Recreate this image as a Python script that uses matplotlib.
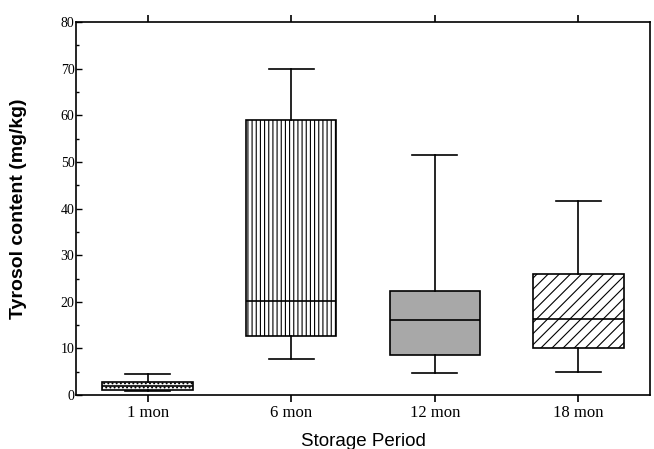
import matplotlib.pyplot as plt
from matplotlib.ticker import MultipleLocator

periods = ['1 mon', '6 mon', '12 mon', '18 mon']
whisk_lo = [0.9, 7.8, 4.8, 5.0]
q1 = [1.2, 12.6, 8.7, 10.2]
median = [2.0, 20.2, 16.2, 16.4]
q3 = [2.8, 59.0, 22.3, 26.0]
whisk_hi = [4.5, 70.0, 51.5, 41.6]

faces = ['#f4f4f4', 'white', '#a8a8a8', 'white']
hatches = ['....', '||||', '', '///']

stats = []
for i in range(len(periods)):
    stats.append({'label': periods[i], 'whislo': whisk_lo[i], 'q1': q1[i],
                  'med': median[i], 'q3': q3[i], 'whishi': whisk_hi[i], 'fliers': []})

fig = plt.figure(figsize=(6.54, 4.49), dpi=100)
ax = fig.add_axes([0.116, 0.12, 0.878, 0.831])

lw = 1.2
plt.rcParams['hatch.linewidth'] = 0.8
bp = ax.bxp(stats, positions=[1, 2, 3, 4], widths=0.63, patch_artist=True,
            showfliers=False,
            boxprops=dict(linewidth=lw, edgecolor='black'),
            medianprops=dict(color='black', linewidth=lw),
            whiskerprops=dict(color='black', linewidth=lw),
            capprops=dict(color='black', linewidth=lw))
for patch, fc, h in zip(bp['boxes'], faces, hatches):
    patch.set_facecolor(fc)
    patch.set_hatch(h)

ax.set_xlim(0.5, 4.5)
ax.set_ylim(0, 80)
ax.yaxis.set_major_locator(MultipleLocator(10))
ax.yaxis.set_minor_locator(MultipleLocator(5))

for s in ax.spines.values():
    s.set_linewidth(1.2)

ax.tick_params(axis='y', which='both', direction='in', length=4, width=1, pad=1)
ax.tick_params(axis='y', which='minor', length=2.5)
ax.tick_params(axis='x', direction='out', length=5, width=1.2, top=True, pad=2)
for lab in ax.get_yticklabels():
    lab.set_fontfamily('Liberation Serif')
    lab.set_fontsize(10)
ax.set_xticks([1, 2, 3, 4])
ax.set_xticklabels(periods, fontfamily='Liberation Serif', fontsize=12)

ax.set_ylabel('Tyrosol content (mg/kg)', fontfamily='Liberation Sans',
              fontweight='bold', fontsize=14, labelpad=24)
ax.set_xlabel('Storage Period', fontfamily='Liberation Sans', fontsize=13.5, labelpad=9)

fig.savefig('out.png', dpi=100)
